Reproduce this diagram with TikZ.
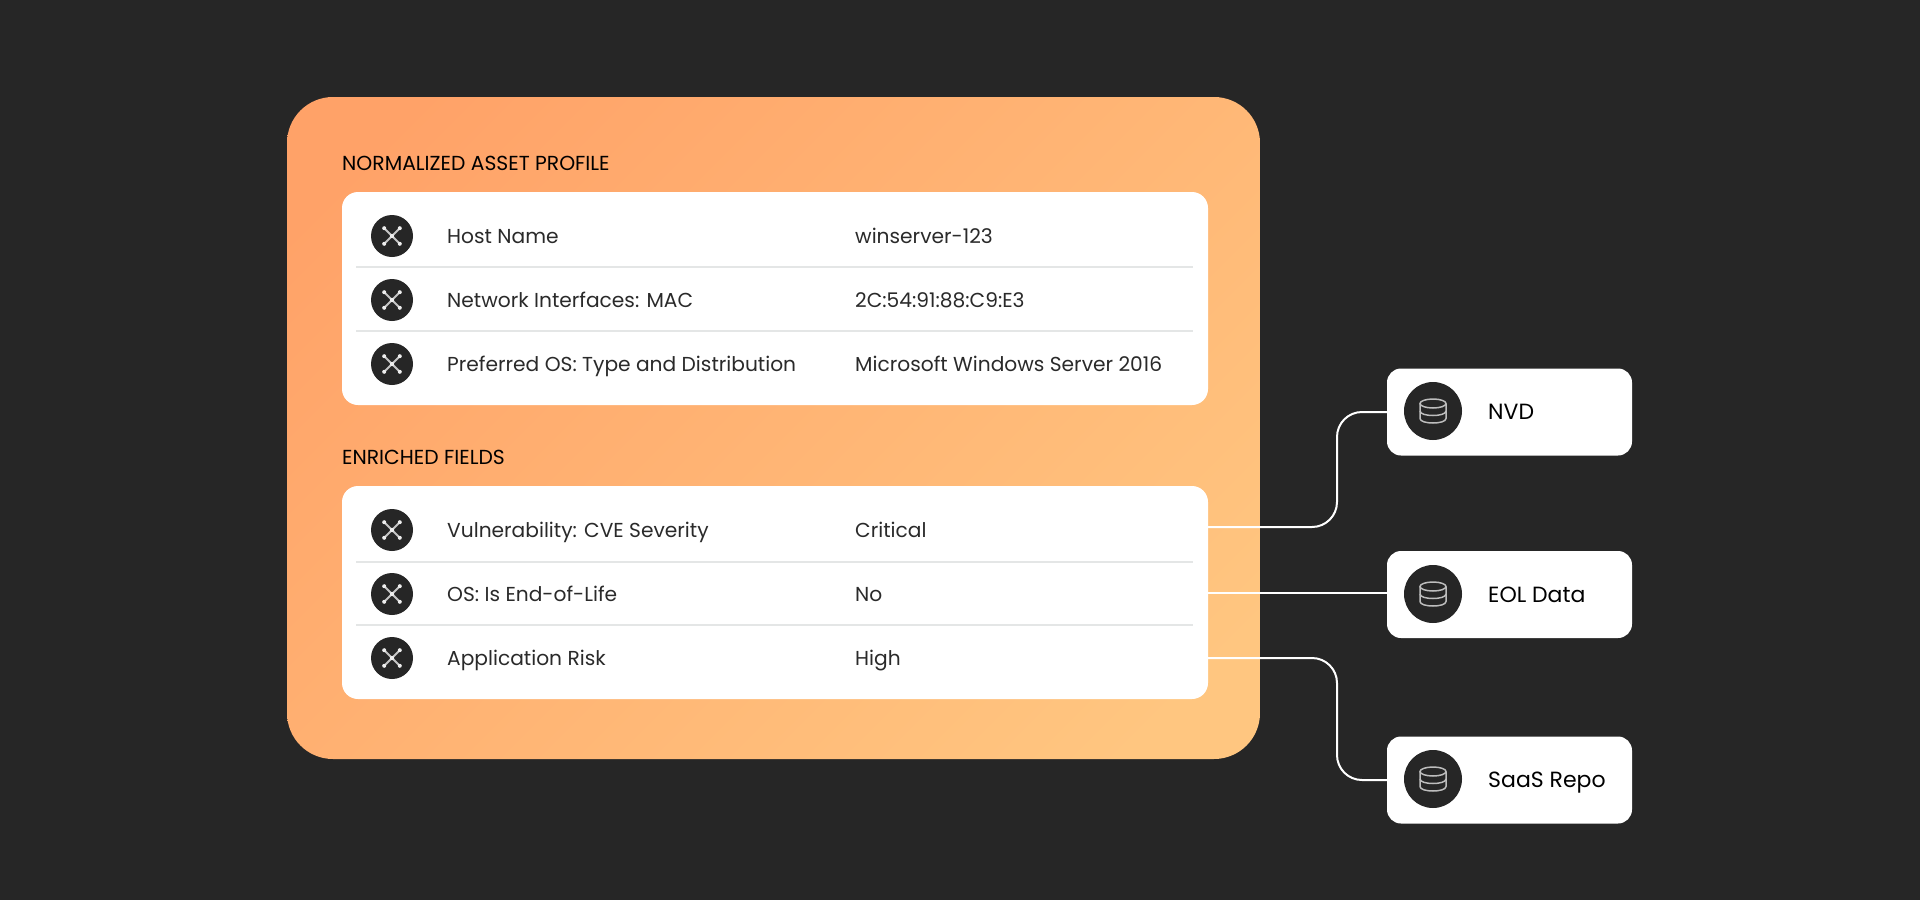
\documentclass[tikz,border=0pt]{standalone}
\usepackage{fontspec}
\setmainfont{Poppins}
\definecolor{bgc}{HTML}{262626}
\definecolor{sepc}{HTML}{E4E6E6}
\definecolor{txtc}{HTML}{2A2A2A}
\definecolor{iconc}{HTML}{EDEDED}
\definecolor{iconl}{HTML}{C4C4C4}
\definecolor{dbc}{HTML}{BDBDBD}
\definecolor{orA}{HTML}{FFA268}
\definecolor{orB}{HTML}{FFC680}
\newcommand{\rowicon}[1]{%
  \node[badge] (#1) at (#1p) {};
  \foreach \sx/\sy in {1/1,1/-1,-1/1,-1/-1}{
    \draw[iconl,line width=1.9pt] (#1.center) -- ($(#1.center)+(\sx*7.5,\sy*7.5)$);
    \fill[iconc] ($(#1.center)+(\sx*7.8,\sy*7.8)$) circle (2);
  }
  \fill[iconc] (#1.center) circle (2.2);
}
\newcommand{\dbicon}[1]{%
  \begin{scope}[shift={(#1.center)},dbc,line width=1.5pt]
    \draw (0,-7.5) ellipse[x radius=13,y radius=4.5];
    \draw (-13,-7.5) -- (-13,7.5) .. controls (-13,13.5) and (13,13.5) .. (13,7.5) -- (13,-7.5);
    \draw (-13,0) .. controls (-13,6) and (13,6) .. (13,0);
  \end{scope}
}
\usetikzlibrary{calc}
\tikzset{
  x=1pt,y=-1pt,
  card/.style={fill=white,draw=none,rounded corners=16pt,inner sep=0pt},
  srcbox/.style={fill=white,draw=none,rounded corners=14pt,inner sep=0pt,minimum width=245pt,minimum height=87pt},
  badge/.style={circle,fill=bgc,draw=none,minimum size=42pt,inner sep=0pt},
  srcbadge/.style={circle,fill=bgc,draw=none,minimum size=58pt,inner sep=0pt},
  rowtext/.style={anchor=base west,inner sep=0pt,text=txtc,font=\fontsize{20.2}{26}\selectfont},
  headtext/.style={anchor=base west,inner sep=0pt,text=black,font=\fontsize{20.3}{24}\selectfont},
  srctext/.style={anchor=base west,inner sep=0pt,text=black,font=\fontsize{22}{28}\selectfont},
  sepline/.style={draw=sepc,line width=2pt},
  conn/.style={draw=white,line width=2pt,rounded corners=25pt},
}
\begin{document}
\begin{tikzpicture}
\useasboundingbox (0,0) rectangle (1920,900);
\fill[bgc] (0,0) rectangle (1920,900);
\begin{scope}
\clip[rounded corners=46pt] (287,97) rectangle (1260,759);
\shade[left color=orA,right color=orB,shading angle=45] (287,-58.5) rectangle (1260,914.5);
\end{scope}
\node[card,minimum width=866pt,minimum height=213pt] (cardA) at (775,298.5) {};
\node[card,minimum width=866pt,minimum height=213pt] (cardB) at (775,592.5) {};
\node[headtext] (headA) at (342,170) {NORMALIZED ASSET PROFILE};
\node[headtext] (headB) at (342,464) {ENRICHED FIELDS};
\draw[sepline] (356,267) -- (1193,267);
\draw[sepline] (356,331) -- (1193,331);
\draw[sepline] (356,562) -- (1193,562);
\draw[sepline] (356,625) -- (1193,625);
\coordinate (r1p) at (392,236);
\coordinate (r2p) at (392,300);
\coordinate (r3p) at (392,364);
\coordinate (r4p) at (392,530);
\coordinate (r5p) at (392,594);
\coordinate (r6p) at (392,658);
\rowicon{r1}\rowicon{r2}\rowicon{r3}\rowicon{r4}\rowicon{r5}\rowicon{r6}
\node[rowtext] (t1) at (447,243) {Host Name};
\node[rowtext] (t2) at (447,307) {Network Interfaces: MAC};
\node[rowtext] (t3) at (447,371) {Preferred OS: Type and Distribution};
\node[rowtext] (t4) at (447,537) {Vulnerability: CVE Severity};
\node[rowtext] (t5) at (447,601) {OS: Is End-of-Life};
\node[rowtext] (t6) at (447,665) {Application Risk};
\node[rowtext] (v1) at (855,243) {winserver-123};
\node[rowtext] (v2) at (855,307) {2C:54:91:88:C9:E3};
\node[rowtext] (v3) at (855,371) {Microsoft Windows Server 2016};
\node[rowtext] (v4) at (855,537) {Critical};
\node[rowtext] (v5) at (855,601) {No};
\node[rowtext] (v6) at (855,665) {High};
\node[srcbox] (nvd) at (1509.5,412) {};
\node[srcbox] (eol) at (1509.5,594.5) {};
\node[srcbox] (saas) at (1509.5,780) {};
\node[srcbadge] (nvdb) at (1433,411) {};
\node[srcbadge] (eolb) at (1433,594) {};
\node[srcbadge] (saasb) at (1433,779) {};
\dbicon{nvdb}\dbicon{eolb}\dbicon{saasb}
\node[srctext] (nvdt) at (1488,419.5) {NVD};
\node[srctext] (eolt) at (1488,602.5) {EOL Data};
\node[srctext] (saast) at (1488,787.5) {SaaS Repo};
\coordinate (s1) at (cardB.east |- 0,527);
\coordinate (s2) at (cardB.east |- 0,593);
\coordinate (s3) at (cardB.east |- 0,658);
\coordinate (m1) at (1337,527);
\coordinate (m3) at (1337,658);
\draw[conn] (s1) -- (m1) -- (m1 |- nvd.west) -- (nvd.west);
\draw[conn] (s2) -- (s2 -| eol.west);
\draw[conn] (s3) -- (m3) -- (m3 |- saas.west) -- (saas.west);
\end{tikzpicture}
\end{document}
